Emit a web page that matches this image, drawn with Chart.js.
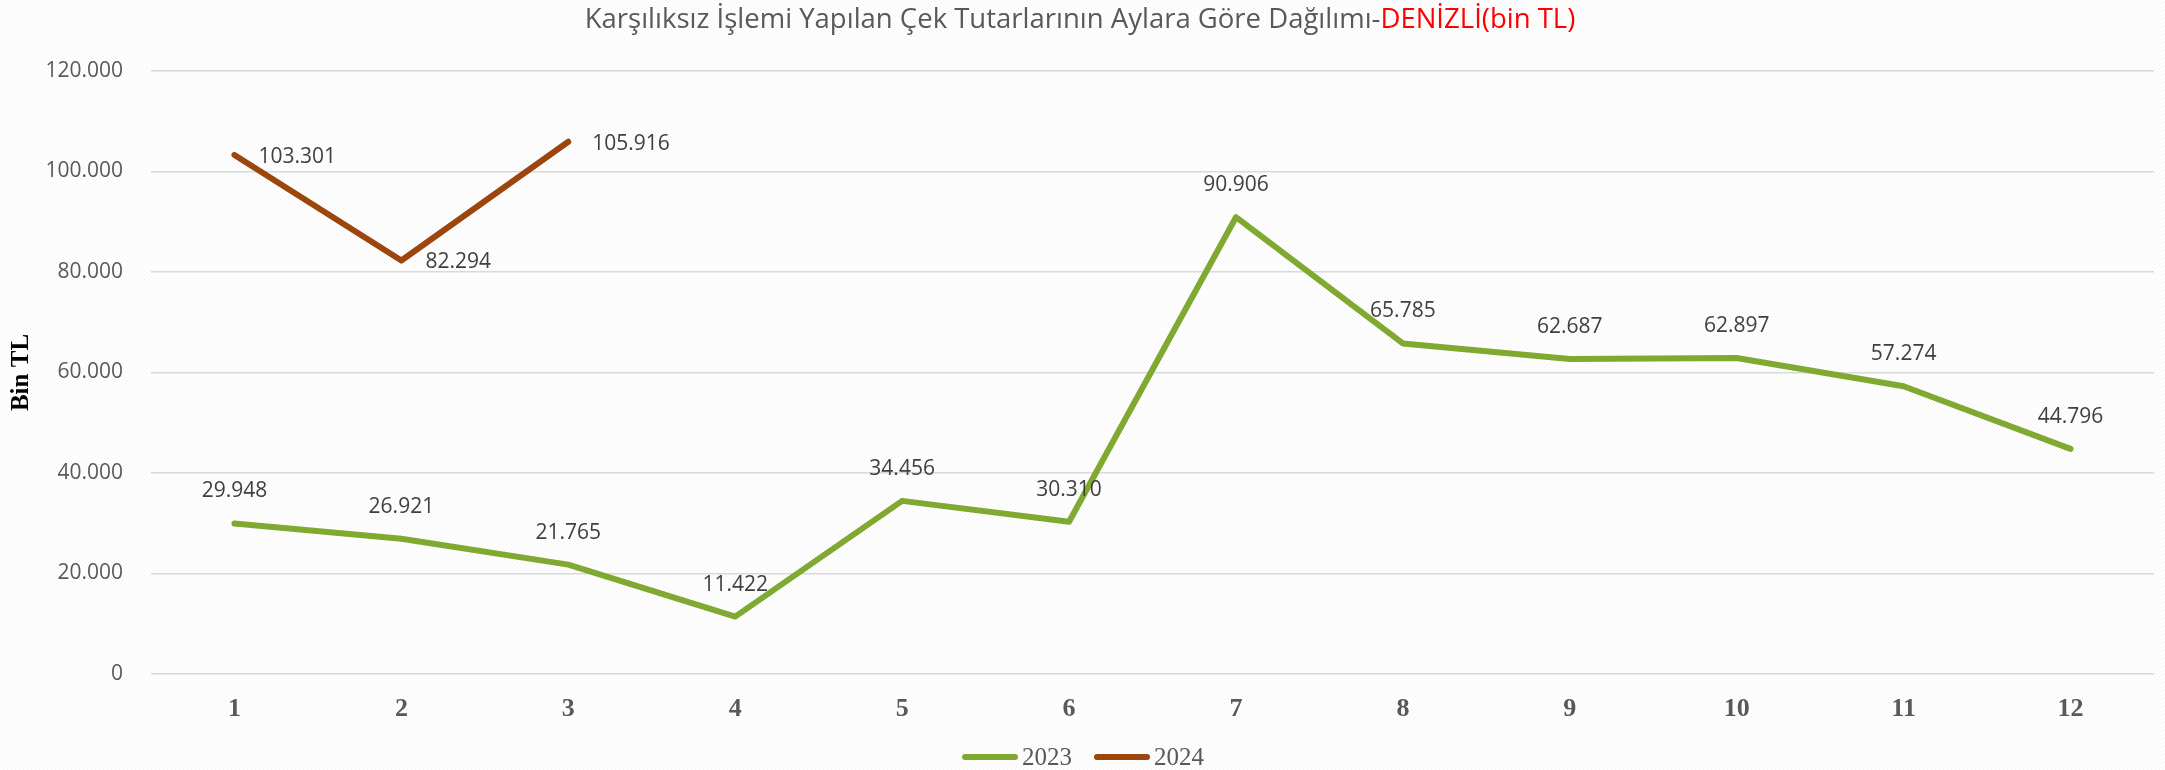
<!DOCTYPE html>
<html>
<head>
<meta charset="utf-8">
<script src="https://cdn.jsdelivr.net/npm/chart.js@4"></script>
<style>
  html, body { margin: 0; padding: 0; background: #fff; }
  #wrap { width: 2165px; height: 770px; }
</style>
</head>
<body>
<div id="wrap"><canvas id="myChart" width="2165" height="770"></canvas></div>
<script>
        // chart data
        const months = ["1", "2", "3", "4", "5", "6", "7", "8", "9", "10", "11", "12"];
        const values2023 = [29948, 26921, 21765, 11422, 34456, 30310, 90906, 65785, 62687, 62897, 57274, 44796];
        const values2024 = [103301, 82294, 105916, null, null, null, null, null, null, null, null, null];
        const seriesNames = ["2023", "2024"];
        const yTicks = [0, 20000, 40000, 60000, 80000, 100000, 120000];
        const titleMain = "Karşılıksız İşlemi Yapılan Çek Tutarlarının Aylara Göre Dağılımı-";
        const titleRed = "DENİZLİ(bin TL)";
        const yTitle = "Bin TL";

        const green = '#80A932';
        const brown = '#9C460D';
        const textGray = '#595959';

        // 120000 -> "120.000"
        function fmt(v) {
            return String(Math.round(v)).replace(/\B(?=(\d{3})+(?!\d))/g, '.');
        }

        // faint hatch background + title + legend
        const backgroundPlugin = {
            id: 'bg',
            beforeDraw(chart) {
                const ctx = chart.ctx;
                ctx.save();
                ctx.fillStyle = '#ffffff';
                ctx.fillRect(0, 0, chart.width, chart.height);
                ctx.strokeStyle = 'rgba(0,0,0,0.045)';
                ctx.lineWidth = 1;
                ctx.beginPath();
                for (let i = -chart.height; i < chart.width; i += 4) {
                    ctx.moveTo(i, 0);
                    ctx.lineTo(i + chart.height, chart.height);
                }
                ctx.stroke();
                ctx.restore();
            },
            afterDraw(chart) {
                const ctx = chart.ctx;
                ctx.save();
                ctx.font = '27.5px "Open Sans"';
                ctx.textBaseline = 'middle';
                const w1 = ctx.measureText(titleMain).width;
                const w2 = ctx.measureText(titleRed).width;
                let x = 1080 - (w1 + w2) / 2;
                ctx.fillStyle = textGray;
                ctx.fillText(titleMain, x, 20);
                ctx.fillStyle = '#FF0000';
                ctx.fillText(titleRed, x + w1, 20);

                // legend
                ctx.font = '25px "Liberation Serif"';
                const colors = [green, brown];
                const widths = seriesNames.map(n => ctx.measureText(n).width);
                const total = 56 + 4 + widths[0] + 22 + 56 + 4 + widths[1];
                x = 1083 - total / 2;
                const ly = 757;
                seriesNames.forEach((n, i) => {
                    ctx.strokeStyle = colors[i];
                    ctx.lineWidth = 6;
                    ctx.lineCap = 'round';
                    ctx.beginPath();
                    ctx.moveTo(x + 3, ly);
                    ctx.lineTo(x + 53, ly);
                    ctx.stroke();
                    ctx.fillStyle = textGray;
                    ctx.fillText(n, x + 60, ly + 1);
                    x += 60 + widths[i] + 22;
                });
                ctx.restore();
            }
        };

        // value labels
        const labelPlugin = {
            id: 'valueLabels',
            afterDatasetsDraw(chart) {
                const ctx = chart.ctx;
                ctx.save();
                ctx.font = '21px "Open Sans"';
                ctx.fillStyle = '#404040';
                ctx.textBaseline = 'middle';
                chart.data.datasets.forEach((ds, di) => {
                    const meta = chart.getDatasetMeta(di);
                    meta.data.forEach((pt, i) => {
                        const v = ds.data[i];
                        if (v === null) return;
                        if (di === 0) {
                            ctx.textAlign = 'center';
                            ctx.fillText(fmt(v), pt.x, pt.y - 32);
                        } else {
                            ctx.textAlign = 'left';
                            ctx.fillText(fmt(v), pt.x + 24, pt.y + 2);
                        }
                    });
                });
                ctx.restore();
            }
        };

        const myChart = new Chart(document.getElementById('myChart'), {
            type: 'line',
            data: {
                labels: months,
                datasets: [
                    {
                        label: seriesNames[0],
                        data: values2023,
                        borderColor: green,
                        backgroundColor: green,
                        borderWidth: 6,
                        pointRadius: 0,
                        tension: 0,
                        borderCapStyle: 'round',
                        borderJoinStyle: 'round'
                    },
                    {
                        label: seriesNames[1],
                        data: values2024,
                        borderColor: brown,
                        backgroundColor: brown,
                        borderWidth: 6,
                        pointRadius: 0,
                        tension: 0,
                        borderCapStyle: 'round',
                        borderJoinStyle: 'round'
                    }
                ]
            },
            options: {
                responsive: false,
                animation: false,
                layout: { padding: { left: 0, top: 71, right: 11, bottom: 0 } },
                plugins: {
                    legend: { display: false },
                    title: { display: false },
                    tooltip: { enabled: false }
                },
                scales: {
                    x: {
                        offset: true,
                        grid: { display: false, drawTicks: false },
                        border: { display: false },
                        ticks: {
                            color: textGray,
                            padding: 20,
                            font: { family: '"Liberation Serif"', size: 26, weight: 'bold' }
                        },
                        afterFit(scale) { scale.height = 96; }
                    },
                    y: {
                        min: 0,
                        max: 120000,
                        afterBuildTicks(scale) {
                            scale.ticks = yTicks.map(v => ({ value: v }));
                        },
                        grid: { color: '#D9D9D9', lineWidth: 1.5, drawTicks: false },
                        border: { display: false },
                        ticks: {
                            color: textGray,
                            padding: 28,
                            font: { family: '"Open Sans"', size: 21 },
                            callback: (v) => fmt(v)
                        },
                        title: {
                            display: true,
                            text: yTitle,
                            color: '#000000',
                            padding: { top: 7, bottom: 0 },
                            font: { family: '"Liberation Serif"', size: 25, weight: 'bold' }
                        },
                        afterFit(scale) { scale.width = 151; }
                    }
                }
            },
            plugins: [backgroundPlugin, labelPlugin]
        });
</script>
</body>
</html>
